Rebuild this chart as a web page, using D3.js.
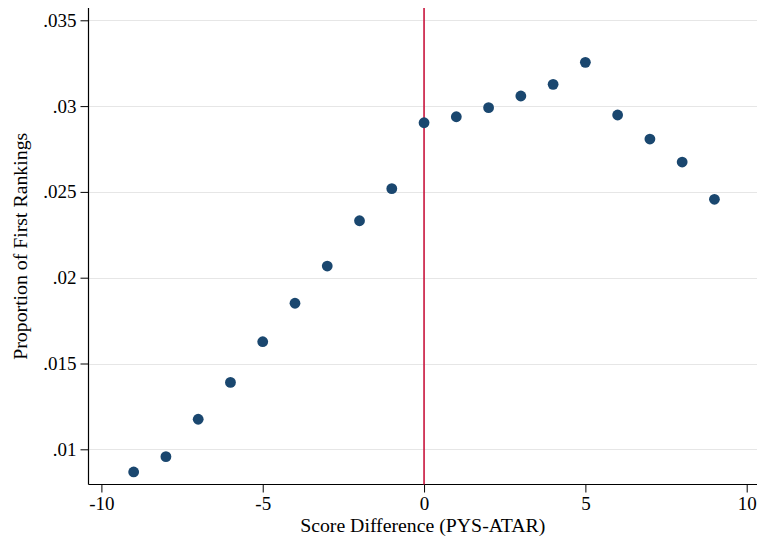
<!DOCTYPE html>
<html>
<head>
<meta charset="utf-8">
<script src="https://cdn.jsdelivr.net/npm/d3@7"></script>
<style>
  body { margin: 0; background: #fff; }
  svg { display: block; font-family: "Liberation Serif", "Times New Roman", serif; }
</style>
</head>
<body>
<div id="graph"></div>
<script>
// score difference (PYS - ATAR)
var scoreDiff = [-9, -8, -7, -6, -5, -4, -3, -2, -1, 0, 1, 2, 3, 4, 5, 6, 7, 8, 9];
// proportion of first rankings
var propFirst = [.00868, .00957, .01175, .01390, .01627, .01851, .02068, .02332, .02519,
                 .02903, .02938, .02991, .03059, .03127, .03255, .02948, .02808, .02674, .02457];
var xTicks = [-10, -5, 0, 5, 10];
var yTicks = [.01, .015, .02, .025, .03, .035];

var data = scoreDiff.map(function(d, i){ return {x: d, y: propFirst[i]}; });

var width = 757, height = 542;
var padL = 88.5, padT = 8, axisY = 484.5, padR = 757;

var x = d3.scaleLinear().domain([-10, 10]).range([101.4, 746.7]);
var y = d3.scaleLinear().domain([.01, .035]).range([449.3, 20.3]);

var svg = d3.select('#graph').append('svg')
  .attr('width', width).attr('height', height);

// gridlines
svg.append('g')
  .selectAll('line')
  .data(yTicks)
  .enter().append('line')
    .attr('x1', padL).attr('x2', padR)
    .attr('y1', d => Math.round(y(d)) + 0.5).attr('y2', d => Math.round(y(d)) + 0.5)
    .attr('stroke', '#e6e6e6').attr('stroke-width', 1);

// y axis
var fmt = function(d){ return d3.format('.3~f')(d).replace(/^0/, ''); };
var yAxis = svg.append('g')
  .attr('transform', 'translate(' + padL + ',0)')
  .call(d3.axisLeft(y).tickValues(yTicks).tickFormat(fmt).tickSize(8).tickPadding(4));
yAxis.select('.domain').remove();
yAxis.append('line')
  .attr('x1', 0).attr('x2', 0).attr('y1', padT).attr('y2', axisY)
  .attr('stroke', '#000').attr('stroke-width', 1.2);

// x axis (plain hyphen for negatives, like the original)
var xAxis = svg.append('g')
  .attr('transform', 'translate(0,' + axisY + ')')
  .call(d3.axisBottom(x).tickValues(xTicks).tickFormat(d => String(d)).tickSize(8).tickPadding(4));
xAxis.select('.domain').remove();
xAxis.append('line')
  .attr('x1', padL).attr('x2', padR).attr('y1', 0).attr('y2', 0)
  .attr('stroke', '#000').attr('stroke-width', 1.2);

svg.selectAll('.tick text')
  .attr('font-size', '19px').attr('font-family', '"Liberation Serif", serif').attr('fill', '#000');
svg.selectAll('.tick line').attr('stroke', '#000');

// cutoff line at 0
svg.append('line')
  .attr('x1', x(0)).attr('x2', x(0))
  .attr('y1', padT).attr('y2', axisY)
  .attr('stroke', '#c8143c').attr('stroke-width', 1.6);

// points
svg.append('g')
  .selectAll('circle')
  .data(data)
  .enter().append('circle')
    .attr('cx', d => x(d.x))
    .attr('cy', d => y(d.y))
    .attr('r', 5.4)
    .attr('fill', '#1a476f');

// axis titles
svg.append('text')
  .attr('x', (padL + padR) / 2).attr('y', 531.5)
  .attr('text-anchor', 'middle')
  .attr('font-size', '19.8px')
  .text('Score Difference (PYS-ATAR)');

svg.append('text')
  .attr('transform', 'translate(27,' + (padT + axisY) / 2 + ') rotate(-90)')
  .attr('text-anchor', 'middle')
  .attr('font-size', '19.8px')
  .text('Proportion of First Rankings');
</script>
</body>
</html>
